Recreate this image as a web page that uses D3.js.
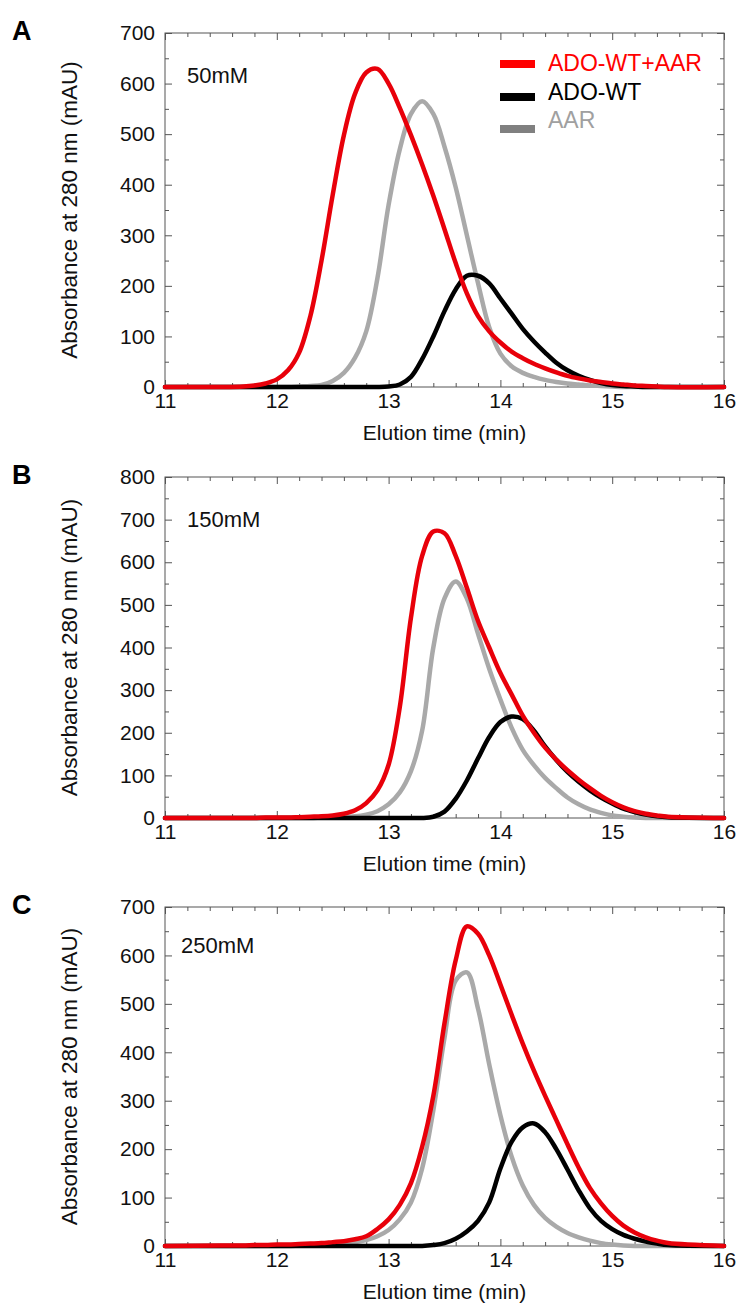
<!DOCTYPE html>
<html lang="en">
  <head>
    <meta charset="utf-8">
    <title>Elution profiles</title>
    <script src="https://d3js.org/d3.v7.js"></script>
    <style>
      body { margin: 0; background: #fff; }
    </style>
  </head>

  <body>
    <script>
      // Elution time grid (min), shared by every trace
      const time = [11, 11.5, 11.7, 11.8, 11.9,
        12.0, 12.1, 12.2, 12.3, 12.4, 12.5, 12.6, 12.7, 12.8, 12.9,
        13.0, 13.1, 13.2, 13.3, 13.4, 13.5, 13.6, 13.7, 13.8, 13.9,
        14.0, 14.1, 14.2, 14.3, 14.4, 14.5, 14.6, 14.7, 14.8, 14.9,
        15.0, 15.1, 15.2, 15.3, 15.4, 15.5, 16];

      // 50mM
      const redA = [0, 0, 1, 3, 7,
        15, 33, 68, 140, 250, 380, 498, 580, 622, 629,
        600, 552, 498, 440, 378, 312, 245, 185, 140, 110,
        88, 70, 57, 46, 37, 29, 22, 17, 13, 10,
        7, 5, 3, 2, 1, 0, 0];
      const blackA = [0, 0, 0, 0, 0,
        0, 0, 0, 0, 0, 0, 0, 0, 0, 0,
        1, 5, 20, 55, 100, 150, 193, 220, 220, 205,
        175, 145, 115, 90, 68, 48, 33, 22, 14, 8,
        4, 2, 1, 0, 0, 0, 0];
      const grayA = [0, 0, 0, 0, 0,
        0, 0, 1, 2, 4, 12, 28, 58, 110, 215,
        360, 470, 540, 565, 540, 475, 395, 300, 205, 118,
        66, 41, 28, 20, 14, 10, 7, 5, 3, 2,
        1, 0, 0, 0, 0, 0, 0];

      // 150mM
      const redB = [0, 0, 0, 0, 1,
        1, 1, 2, 3, 4, 6, 10, 18, 35, 65,
        125, 260, 470, 615, 672, 668, 615, 540, 462, 400,
        340, 290, 240, 200, 165, 137, 112, 90, 70, 52,
        37, 25, 16, 10, 6, 3, 0];
      const blackB = [0, 0, 0, 0, 0,
        0, 0, 0, 0, 0, 0, 0, 0, 0, 0,
        0, 0, 0, 0, 3, 15, 45, 88, 140, 190,
        225, 238, 232, 205, 168, 136, 108, 85, 65, 48,
        34, 22, 14, 8, 4, 2, 0];
      const grayB = [0, 0, 0, 0, 0,
        0, 0, 0, 0, 1, 2, 3, 4, 8, 16,
        32, 60, 110, 205, 400, 515, 555, 515, 432, 350,
        278, 212, 160, 124, 94, 70, 48, 32, 20, 12,
        6, 3, 1, 0, 0, 0, 0];

      // 250mM
      const redC = [0, 1, 1, 2, 2,
        3, 3, 4, 5, 6, 8, 10, 14, 20, 35,
        55, 85, 130, 205, 310, 460, 590, 660, 645, 600,
        540, 478, 418, 362, 310, 260, 210, 162, 120, 88,
        62, 42, 28, 18, 11, 6, 0];
      const blackC = [0, 0, 0, 0, 0,
        0, 0, 0, 0, 0, 0, 0, 0, 0, 0,
        0, 0, 0, 0, 2, 6, 15, 30, 52, 90,
        160, 215, 245, 253, 235, 200, 158, 115, 78, 52,
        35, 23, 15, 9, 5, 2, 0];
      const grayC = [0, 0, 0, 0, 0,
        0, 0, 1, 2, 2, 3, 5, 8, 12, 20,
        33, 55, 90, 160, 280, 430, 548, 565, 490, 375,
        270, 185, 125, 85, 58, 40, 27, 18, 11, 6,
        3, 1, 0, 0, 0, 0, 0];

      const seriesNames = ["ADO-WT+AAR", "ADO-WT", "AAR"];
      const panelLetters = ["A", "B", "C"];
      const saltLabels = ["50mM", "150mM", "250mM"];
      const yMaxes = [700, 800, 700];
      const xTickLabels = [11, 12, 13, 14, 15, 16];

      const panelSeries = [
        [grayA, blackA, redA],
        [grayB, blackB, redB],
        [grayC, blackC, redC]
      ];

      const w = 742;
      const h = 1309;
      const left = 165;
      const right = 724;
      const tops = [33, 477, 907];
      const bottoms = [387, 818, 1246];
      const font = "'Liberation Sans', Arial, sans-serif";

      const colors = { "ADO-WT+AAR": "#e8000a", "ADO-WT": "#000000", "AAR": "#a9a9a9" };
      const drawOrder = ["AAR", "ADO-WT", "ADO-WT+AAR"];

      const svg = d3.select("body")
        .append("svg")
        .attr("width", w)
        .attr("height", h);

      svg.append("rect")
        .attr("width", w)
        .attr("height", h)
        .attr("fill", "#fff");

      const xScale = d3.scaleLinear()
        .domain([11, 16])
        .range([left, right]);

      function styleAxis(g) {
        g.select(".domain").remove();
        g.selectAll("line").attr("stroke", "#555").attr("stroke-width", 1);
        g.selectAll("text")
          .attr("font-family", font)
          .attr("font-size", 21)
          .attr("fill", "#111");
      }

      panelLetters.forEach((letter, p) => {
        const top = tops[p];
        const bottom = bottoms[p];
        const yMax = yMaxes[p];

        const yScale = d3.scaleLinear()
          .domain([0, yMax])
          .range([bottom, top]);

        const yMajor = d3.range(0, yMax + 1, 100);
        const yMinor = d3.range(50, yMax, 100);
        const xMinor = d3.range(11, 16.001, 0.2).filter(v => Math.abs(v - Math.round(v)) > 0.01);

        const g = svg.append("g").attr("class", "panel-" + letter);

        // bottom axis with labels
        g.append("g")
          .attr("transform", `translate(0, ${bottom})`)
          .call(d3.axisBottom(xScale).tickValues(xTickLabels).tickFormat(d3.format("d"))
            .tickSize(-7).tickPadding(6))
          .call(styleAxis);
        g.append("g")
          .attr("transform", `translate(0, ${bottom})`)
          .call(d3.axisBottom(xScale).tickValues(xMinor).tickFormat("").tickSize(-4))
          .call(styleAxis);

        // top axis, ticks only
        g.append("g")
          .attr("transform", `translate(0, ${top})`)
          .call(d3.axisTop(xScale).tickValues(xTickLabels).tickFormat("").tickSize(-7))
          .call(styleAxis);
        g.append("g")
          .attr("transform", `translate(0, ${top})`)
          .call(d3.axisTop(xScale).tickValues(xMinor).tickFormat("").tickSize(-4))
          .call(styleAxis);

        // left axis with labels
        g.append("g")
          .attr("transform", `translate(${left}, 0)`)
          .call(d3.axisLeft(yScale).tickValues(yMajor).tickFormat(d3.format("d"))
            .tickSize(-7).tickPadding(10))
          .call(styleAxis);
        g.append("g")
          .attr("transform", `translate(${left}, 0)`)
          .call(d3.axisLeft(yScale).tickValues(yMinor).tickFormat("").tickSize(-4))
          .call(styleAxis);

        // right axis, ticks only
        g.append("g")
          .attr("transform", `translate(${right}, 0)`)
          .call(d3.axisRight(yScale).tickValues(yMajor).tickFormat("").tickSize(-7))
          .call(styleAxis);
        g.append("g")
          .attr("transform", `translate(${right}, 0)`)
          .call(d3.axisRight(yScale).tickValues(yMinor).tickFormat("").tickSize(-4))
          .call(styleAxis);

        // frame
        g.append("rect")
          .attr("x", left)
          .attr("y", top)
          .attr("width", right - left)
          .attr("height", bottom - top)
          .attr("fill", "none")
          .attr("stroke", "#555")
          .attr("stroke-width", 1);

        // traces
        const line = d3.line()
          .x((d, i) => xScale(time[i]))
          .y(d => yScale(d))
          .curve(d3.curveCatmullRom.alpha(0.5));

        const traces = panelSeries[p];
        drawOrder.forEach((name, k) => {
          g.append("path")
            .datum(traces[k])
            .attr("d", line)
            .attr("fill", "none")
            .attr("stroke", colors[name])
            .attr("stroke-width", 4.5)
            .attr("stroke-linejoin", "round")
            .attr("stroke-linecap", "round");
        });

        // panel letter
        g.append("text")
          .attr("x", 12)
          .attr("y", top + 7)
          .attr("font-family", font)
          .attr("font-weight", "bold")
          .attr("font-size", 27)
          .attr("fill", "#000")
          .text(letter);

        // salt concentration
        g.append("text")
          .attr("x", p === 2 ? 181 : 187)
          .attr("y", top + (p === 2 ? 46 : 50))
          .attr("font-family", font)
          .attr("font-size", 22)
          .attr("fill", "#111")
          .text(saltLabels[p]);

        // axis titles
        g.append("text")
          .attr("transform", `translate(77, ${(top + bottom) / 2}) rotate(-90)`)
          .attr("text-anchor", "middle")
          .attr("font-family", font)
          .attr("font-size", 22.5)
          .attr("fill", "#111")
          .text("Absorbance at 280 nm (mAU)");

        g.append("text")
          .attr("x", (left + right) / 2)
          .attr("y", bottom + 53)
          .attr("text-anchor", "middle")
          .attr("font-family", font)
          .attr("font-size", 21)
          .attr("fill", "#111")
          .text("Elution time (min)");
      });

      // legend in panel A
      const legendRows = [64, 97, 129];
      const legendText = [71, 100, 128];
      const swatchColors = { "ADO-WT+AAR": "#ff0000", "ADO-WT": "#000000", "AAR": "#808080" };
      const textColors = { "ADO-WT+AAR": "#ff0000", "ADO-WT": "#000000", "AAR": "#a0a0a0" };

      const legend = svg.append("g").attr("class", "legend");
      seriesNames.forEach((name, i) => {
        legend.append("line")
          .attr("x1", 500)
          .attr("x2", 535)
          .attr("y1", legendRows[i])
          .attr("y2", legendRows[i])
          .attr("stroke", swatchColors[name])
          .attr("stroke-width", 8);
        legend.append("text")
          .attr("x", 548)
          .attr("y", legendText[i])
          .attr("font-family", font)
          .attr("font-size", 23)
          .attr("fill", textColors[name])
          .text(name);
      });
    </script>
  </body>
</html>
